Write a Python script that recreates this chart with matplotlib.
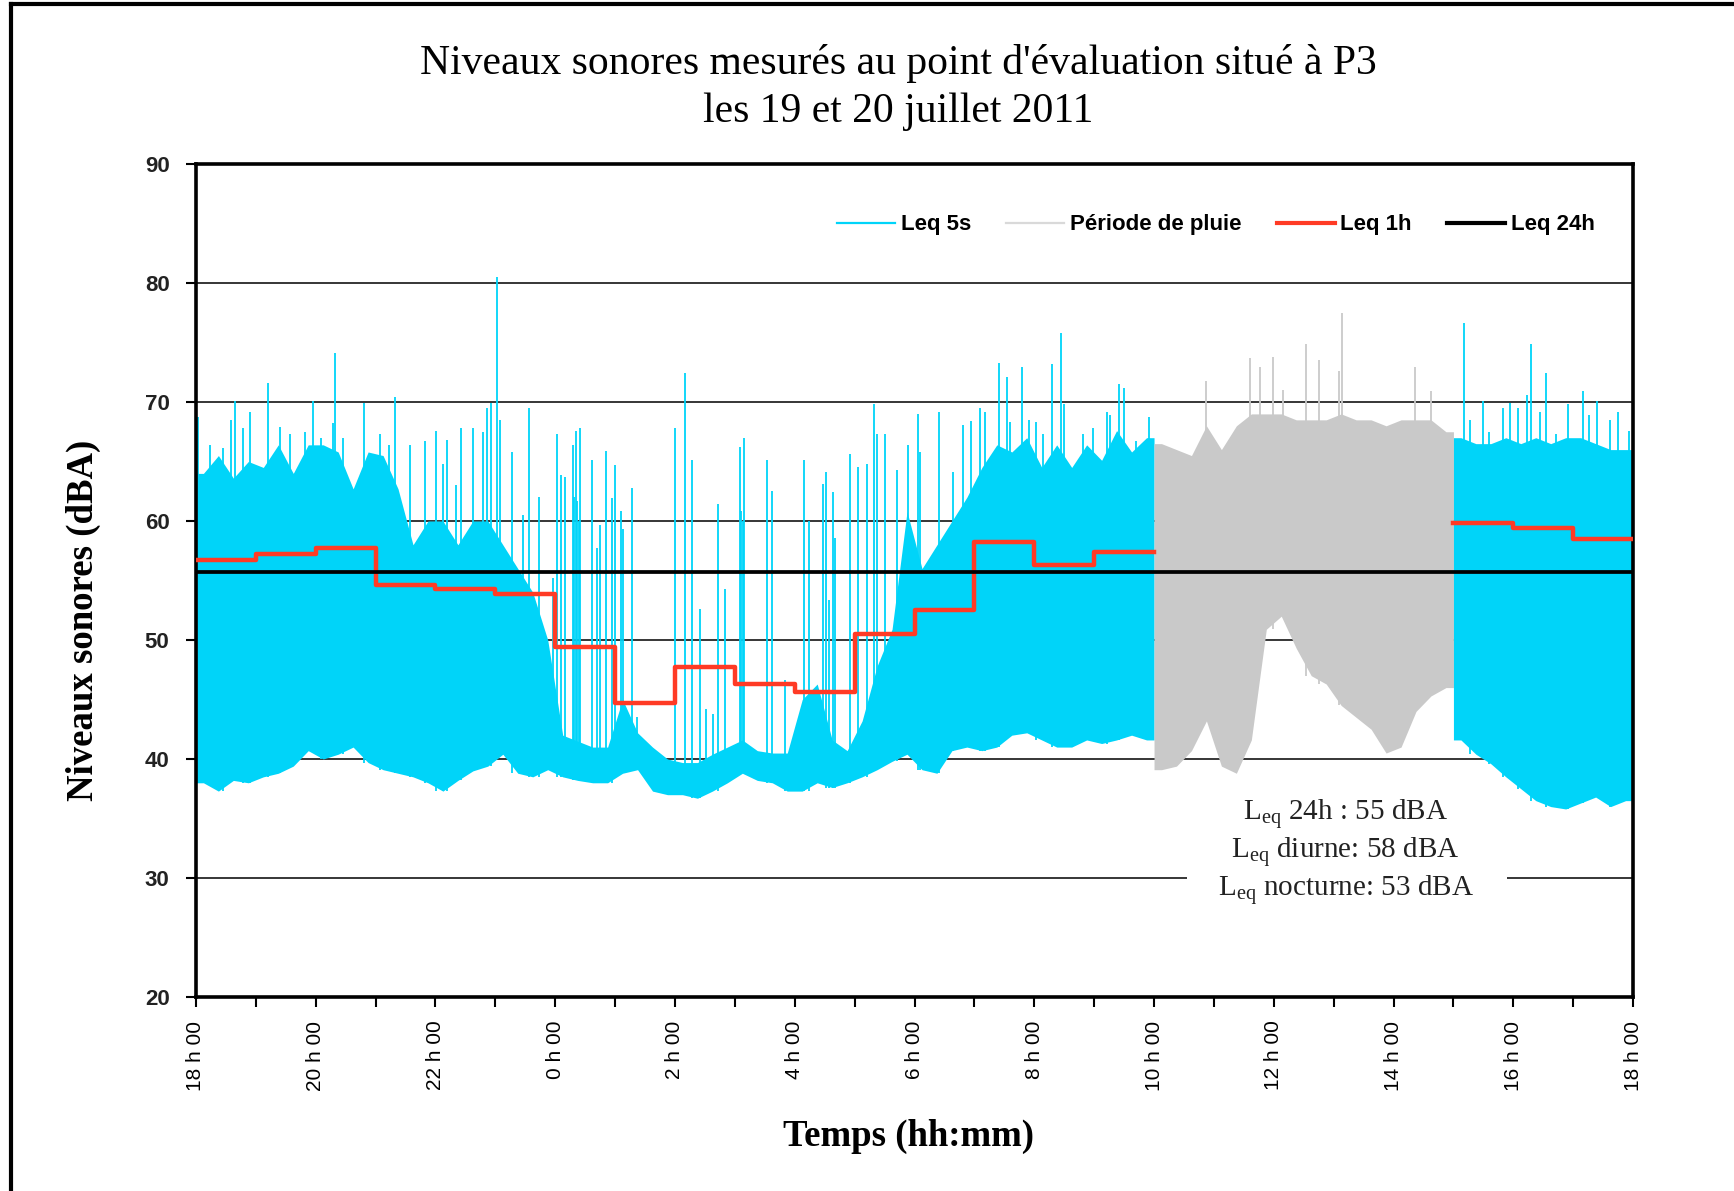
import numpy as np
import matplotlib
matplotlib.use("Agg")
import matplotlib.pyplot as plt
from matplotlib.lines import Line2D

# Leq 5s read as a body (dense band) per 15 min slot, from 18h00 (slot 0) to 17h45 (slot 95)
leq5s_top = [
    64, 65.5, 63.6, 65, 64.5, 66.4, 64, 66.4, 66.4, 65.8, 62.7, 65.8,
    65.5, 62.7, 58, 60, 60, 58, 60, 60, 58, 56, 54, 50,
    42, 41.5, 41, 41, 45, 42.2, 41, 40, 39.7, 39.7, 40.4, 41,
    41.6, 40.7, 40.5, 40.5, 45, 46.3, 41.6, 40.7, 43.2, 47.8, 50.9, 60.8,
    56, 58, 60, 62, 64.5, 66.4, 65.8, 67, 64.5, 66.4, 64.5, 66.4,
    65.1, 67.6, 65.8, 67, 66.5, 66, 65.5, 68, 66, 68, 69, 69,
    69, 68.5, 68.5, 68.5, 69, 68.5, 68.5, 68, 68.5, 68.5, 68.5, 67.5,
    67, 66.5, 66.5, 67, 66.5, 67, 66.5, 67, 67, 66.5, 66, 66,
]
leq5s_bottom = [
    38, 37.3, 38.2, 38, 38.5, 38.8, 39.4, 40.7, 40, 40.4, 41, 39.7,
    39.1, 38.8, 38.5, 38, 37.3, 38.2, 39, 39.4, 40.4, 38.8, 38.5, 39.1,
    38.5, 38.2, 38, 38, 38.8, 39.1, 37.3, 37, 37, 36.7, 37.3, 38,
    38.8, 38.2, 38, 37.3, 37.3, 38, 37.6, 38, 38.5, 39.1, 39.8, 40.4,
    39.1, 38.8, 40.7, 41, 40.7, 41, 42, 42.2, 41.6, 41, 41, 41.6,
    41.3, 41.6, 42, 41.6, 39.1, 39.4, 40.7, 43.2, 39.4, 38.8, 41.6, 50.9,
    52, 49.3, 47, 46.3, 44.5, 43.5, 42.5, 40.5, 41, 44, 45.3, 46,
    41.6, 40.4, 39.6, 38.5, 37.5, 36.5, 36, 35.8, 36.3, 36.8, 36, 36.5,
]

# isolated Leq 5s peaks (hours after 18h00, dBA)
spike_t = [
    0.04, 0.23, 0.46, 0.59, 0.66, 0.79, 0.91, 1.21, 1.40, 1.57, 1.82, 1.96,
    2.09, 2.29, 2.33, 2.46, 2.81, 3.07, 3.23, 3.33, 3.57, 3.82, 4.01, 4.12,
    4.19, 4.34, 4.42, 4.62, 4.79, 4.86, 4.93, 5.02, 5.07, 5.28, 5.46, 5.57,
    5.73, 5.96,
    6.03, 6.10, 6.16, 6.29, 6.31, 6.34, 6.37, 6.39, 6.41, 6.62, 6.69, 6.74,
    6.84, 6.94, 7.00, 7.10, 7.13, 7.28, 7.36, 8.00, 8.16, 8.29, 8.42, 8.51,
    8.64, 8.71, 8.84, 9.09, 9.11, 9.13, 9.16, 9.54, 9.62, 9.84, 10.06, 10.16,
    10.24, 10.48, 10.52, 10.57, 10.64, 10.67, 10.93, 11.06, 11.20, 11.32,
    11.37, 11.51, 11.71, 11.89,
    12.06, 12.09, 12.41, 12.64, 12.81, 12.95, 13.09, 13.18, 13.41, 13.54,
    13.59, 13.79, 13.92, 14.03, 14.15, 14.29, 14.44, 14.50, 14.81, 14.98,
    15.21, 15.26, 15.41, 15.50, 15.70, 15.92,
    16.86, 17.60, 17.77, 17.99, 18.15, 18.53, 18.75, 19.09, 19.14, 20.36,
    20.63,
    21.17, 21.27, 21.49, 21.60, 21.83, 21.94, 22.08, 22.23, 22.30, 22.44,
    22.55, 22.72, 22.91, 23.16, 23.27, 23.40, 23.61, 23.75, 23.94,
]
spike_db = [
    68.7, 66.4, 66.1, 68.5, 70.1, 67.8, 69.2, 71.6, 67.9, 67.3, 67.5, 70.1,
    67.0, 68.2, 74.1, 67.0, 69.9, 67.3, 66.4, 70.4, 66.4, 66.7, 67.6, 64.8,
    66.8, 63, 67.8, 67.8, 67.5, 69.5, 69.9, 80.5, 68.5, 65.8, 60.5, 69.5,
    62, 55.2,
    67.3, 63.9, 63.7, 66.4, 62, 67.6, 61.7, 60, 67.8, 65.1, 57.7, 59.7,
    65.9, 61.9, 64.7, 60.8, 59.3, 62.8, 43.5, 67.8, 72.4, 65.1, 52.6, 44.2,
    43.8, 61.4, 54.3, 66.2, 60.8, 60, 67, 65.1, 62.5, 46.6, 42.7, 65.1,
    60, 63.1, 64.1, 53.4, 62.4, 58.6, 65.6, 64.5, 64.8, 69.8,
    67.3, 67.3, 64.3, 66.4,
    69, 65.8, 69.2, 64.1, 68.1, 68.4, 69.5, 69.2, 73.3, 72.1,
    68.3, 72.9, 68.5, 68.3, 67.3, 73.2, 75.8, 69.8, 67.3, 67.8,
    69.2, 68.9, 71.5, 71.2, 66.7, 68.7,
    71.8, 73.7, 72.9, 73.8, 71, 74.9, 73.5, 72.6, 77.5, 72.9,
    70.9,
    76.6, 68.5, 70.1, 67.5, 69.5, 69.9, 69.5, 70.6, 74.9, 69.2,
    72.4, 67.3, 69.8, 70.9, 68.9, 70.1, 68.5, 69.2, 67.6,
]

# Leq 1h, one value per hour from 18h00, no value during the rain
leq1h = [56.7, 57.2, 57.7, 54.6, 54.3, 53.9, 49.4, 44.7, 47.7, 46.3, 45.6, 50.5,
         52.5, 58.2, 56.3, 57.4, np.nan, np.nan, np.nan, np.nan, np.nan,
         59.8, 59.4, 58.5]
leq24h = 55.7
rain_start, rain_end = 16, 21  # 10h00 -> 15h00

hour_labels = ["18 h 00", "20 h 00", "22 h 00", "0 h 00", "2 h 00", "4 h 00", "6 h 00",
               "8 h 00", "10 h 00", "12 h 00", "14 h 00", "16 h 00", "18 h 00"]

CYAN = "#00d4f9"
GRAY = "#c9c9c9"
RED = "#ff3b25"

fig = plt.figure(figsize=(17.34, 11.91), dpi=100)
ax = fig.add_axes([0.1130, 0.1629, 0.8288, 0.6994])

top = np.array(leq5s_top)
bottom = np.array(leq5s_bottom)
centers = (np.arange(len(top)) + 0.5) / 4.0

def fill_part(a, b, color):
    # bande dense entre les slots a et b, prolongée jusqu'aux bords de la période
    t = np.concatenate([[a / 4.0], centers[a:b], [b / 4.0]])
    hi = np.concatenate([[top[a]], top[a:b], [top[b - 1]]])
    lo = np.concatenate([[bottom[a]], bottom[a:b], [bottom[b - 1]]])
    ax.fill_between(t, lo, hi, color=color, lw=0, zorder=2)

fill_part(0, rain_start * 4, CYAN)
fill_part(rain_start * 4, rain_end * 4, GRAY)
fill_part(rain_end * 4, len(top), CYAN)

st = np.array(spike_t)
sd = np.array(spike_db)
idx = np.clip((st * 4).astype(int), 0, len(top) - 1)
in_rain = (st >= rain_start) & (st < rain_end)
ax.vlines(st[~in_rain], bottom[idx][~in_rain], sd[~in_rain], color=CYAN, lw=1.3, zorder=2)
ax.vlines(st[in_rain], bottom[idx][in_rain], sd[in_rain], color=GRAY, lw=1.3, zorder=2)

# Leq 1h en escalier
hx = np.arange(len(leq1h) + 1)
hy = np.append(leq1h, leq1h[-1])
ax.step(hx, hy, where="post", color=RED, lw=3.2, zorder=4)
ax.axhline(leq24h, color="black", lw=2.7, zorder=5)

ax.set_xlim(0, 24)
ax.set_ylim(20, 90)
ax.set_yticks(range(20, 91, 10))
ax.set_xticks(range(0, 25, 2))
ax.set_xticks(range(1, 24, 2), minor=True)
ax.set_xticklabels(hour_labels, rotation=90, fontsize=15, family="Liberation Sans")
for lab in ax.get_yticklabels():
    lab.set_fontsize(16)
    lab.set_fontweight("bold")
    lab.set_family("Liberation Sans")
    lab.set_color("#222222")
ax.tick_params(axis="both", which="both", direction="out", length=7, width=1.5)
ax.tick_params(axis="x", pad=10)
ax.tick_params(axis="y", pad=12)
for sp in ax.spines.values():
    sp.set_linewidth(2.6)

ax.set_axisbelow(True)
ax.yaxis.grid(True, color="black", lw=1.1)

handles = [Line2D([], [], color=CYAN, lw=1.6),
           Line2D([], [], color="#d9d9d9", lw=1.6),
           Line2D([], [], color=RED, lw=3),
           Line2D([], [], color="black", lw=3)]
ax.legend(handles, ["Leq 5s", "Période de pluie", "Leq 1h", "Leq 24h"],
          loc="center right", bbox_to_anchor=(0.987, 0.927), ncol=4, frameon=False,
          prop={"family": "Liberation Sans", "weight": "bold", "size": 16},
          handlelength=2.6, handletextpad=0.25, columnspacing=1.6)

# texte des niveaux globaux, la ligne de grille à 30 est coupée derrière
serif = "Liberation Serif"
ax.hlines(30, 16.55, 21.9, color="white", lw=3, zorder=1.5)
ann = ["24h : 55 dBA", "diurne: 58 dBA", "nocturne: 53 dBA"]
for txt, yv in zip(ann, [35.35, 32.15, 28.95]):
    ax.text(19.2, yv, r"L$_{\mathregular{eq}}$ " + txt, ha="center", va="center",
            fontsize=21, family=serif, color="#222222", zorder=6)

fig.text(0.518, 0.9463, "Niveaux sonores mesurés au point d'évaluation situé à P3",
         ha="center", va="center", fontsize=30, family=serif)
fig.text(0.518, 0.906, "les 19 et 20 juillet 2011", ha="center", va="center",
         fontsize=30, family=serif)
fig.text(0.0479, 0.4795, "Niveaux sonores (dBA)", rotation=90, ha="center", va="center",
         fontsize=26.5, fontweight="bold", family=serif)
fig.text(0.5242, 0.0462, "Temps (hh:mm)", ha="center", va="center",
         fontsize=26.5, fontweight="bold", family=serif)

# cadre du graphique (haut et gauche)
fig.add_artist(Line2D([0.0063, 1.0], [0.9966, 0.9966], color="black", lw=3))
fig.add_artist(Line2D([0.0063, 0.0063], [0.0, 0.9966], color="black", lw=3))

fig.savefig("out.png", dpi=100)
